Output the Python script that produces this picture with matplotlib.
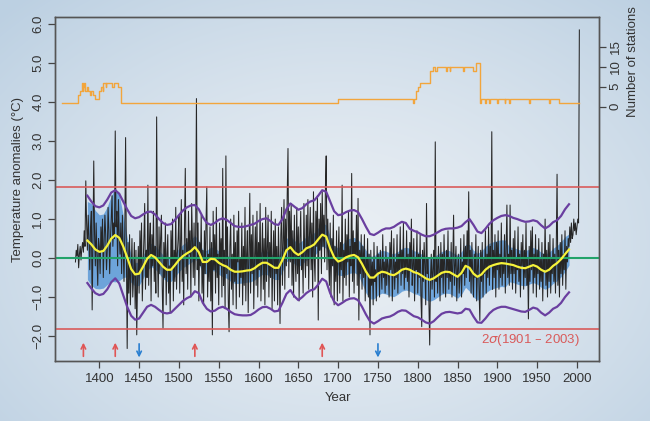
import numpy as np
import matplotlib
matplotlib.use('Agg')
import matplotlib.pyplot as plt

plt.rcParams['font.family'] = ['Liberation Sans', 'DejaVu Sans']
plt.rcParams['mathtext.fontset'] = 'dejavusans'

# ---------------- data ----------------
temp_start_year = 1370
temp_values = [
    -0.10, 0.20, 0.05, 0.35, -0.25, 0.10, 0.30, -0.05, 0.25, 0.40,     # 1370
    0.15, 0.70, 0.30, 1.98, 0.90, 0.20, 1.10, 0.50, -0.30, 0.80,       # 1380
    1.20, -1.33, 0.40, 2.49, 0.60, -0.20, 0.90, 0.10, -0.70, 0.50,     # 1390
    0.30, -0.40, 0.80, 0.20, 1.00, -0.50, 0.40, 1.10, 0.60, -0.30,     # 1400
    0.20, 1.30, 0.70, -0.40, 0.50, 1.00, 1.60, 0.30, 0.90, 0.50,       # 1410
    3.26, 0.80, 1.20, -0.20, 1.50, 0.60, 0.10, 0.90, -0.40, 1.10,      # 1420
    0.30, -0.60, 0.70, 3.09, 0.10, -2.32, 0.40, -0.90, 0.60, -1.20,    # 1430
    -0.30, 0.50, -1.00, -0.50, 0.40, -1.30, 0.20, -1.97, -0.60, 0.30,  # 1440
    -0.90, 0.70, -0.30, 0.90, -1.10, -0.20, 0.50, 1.40, -0.80, 0.20,   # 1450
    -0.50, 1.87, -0.70, 0.40, 0.90, -1.10, 0.60, -0.20, 1.20, -0.60,   # 1460
    0.30, -0.90, 3.62, 0.10, -1.00, 0.80, -0.40, 0.50, 1.10, -0.70,    # 1470
    -1.80, 0.40, -0.50, 0.90, -1.20, 0.10, 0.60, -0.90, -0.20, -1.40,  # 1480
    0.70, -0.30, 1.00, -1.10, 0.20, -0.60, 1.30, -0.80, 0.10, 0.50,    # 1490
    1.10, -0.90, 0.30, 1.50, -0.60, 0.20, -1.20, 0.80, 2.30, -0.40,    # 1500
    0.50, -0.80, 1.20, 0.10, 0.70, -1.00, 1.40, 0.40, -0.50, 0.90,     # 1510
    -0.70, 0.60, 4.09, -0.30, 0.90, -1.10, 0.40, -0.20, 1.10, -0.90,   # 1520
    0.20, -1.20, 0.70, -0.40, 0.90, 1.83, -1.00, 0.10, -0.60, 0.80,    # 1530
    -1.10, 0.40, -1.97, 1.20, -0.30, 0.60, -0.90, 1.30, -0.50, 0.10,   # 1540
    -1.20, 0.90, -0.20, 0.50, -1.00, 2.30, -0.70, 0.20, -1.30, 2.62,   # 1550
    -0.40, 0.80, -1.10, -1.89, 0.30, 1.00, -0.80, 0.10, -1.20, 1.10,   # 1560
    -0.60, 0.40, -1.30, 0.70, -0.10, 1.20, -1.00, 0.00, -0.50, 0.90,   # 1570
    -1.20, 0.30, -0.70, 1.30, -1.10, 0.10, 0.70, -1.40, 0.20, 1.66,    # 1580
    -0.90, 0.60, -0.40, 1.10, -1.30, 0.00, 0.80, -0.70, 1.20, -1.00,   # 1590
    0.40, -0.30, 1.40, -1.10, 0.10, 0.90, -0.80, 0.50, -1.20, 1.30,    # 1600
    -0.60, 0.20, 1.10, -1.00, 0.40, -0.50, 1.20, -1.30, 0.00, 0.70,    # 1610
    -1.10, 1.00, -0.40, 0.30, -1.20, 0.80, -0.10, -1.68, 0.60, 1.30,   # 1620
    -0.70, 0.40, 1.50, -0.80, 1.00, -0.20, 1.60, 2.81, -0.50, 1.20,    # 1630
    -0.10, 1.40, -0.70, 0.70, -1.00, 1.10, 0.00, -0.60, 1.30, -0.40,   # 1640
    0.80, -1.10, 0.50, 1.20, -0.30, 0.20, -0.90, 1.40, 0.10, -0.50,    # 1650
    1.10, -0.20, 1.50, -0.80, 0.60, 1.30, -0.30, 0.90, -1.00, 1.70,    # 1660
    0.00, -0.60, 1.20, 0.30, 1.60, -1.59, 1.00, 0.20, 1.40, -0.40,     # 1670
    1.70, 0.30, 1.10, -0.10, 1.80, 2.62, -0.30, 1.00, 0.00, -0.70,     # 1680
    0.90, -1.00, 0.50, -0.20, 1.10, -1.20, 0.30, -0.60, 0.70, -1.10,   # 1690
    0.10, 0.80, -0.90, 0.40, -0.30, 1.87, -1.10, 0.20, -0.50, 1.00,    # 1700
    -0.70, 0.60, -0.10, 1.20, -1.00, 0.30, -0.20, 2.17, -0.60, 0.70,   # 1710
    -0.90, 0.40, 0.00, 1.10, -0.70, 1.53, -1.59, 0.20, -0.40, 0.60,    # 1720
    -0.80, 0.30, -0.50, 0.60, -1.10, 0.00, -0.40, 0.50, -1.00, 0.10,   # 1730
    -1.97, 0.20, -0.70, -0.10, -1.20, 0.40, -0.60, -0.30, -1.10, 0.30, # 1740
    -0.40, 0.10, -1.00, 0.20, -0.30, -0.80, 0.60, -0.50, -0.10, -0.90, # 1750
    0.30, -0.70, 0.00, -0.20, -1.00, 0.40, -0.30, 0.70, -1.10, -0.40,  # 1760
    0.50, -0.80, -0.10, -0.50, 0.60, -0.90, 0.10, -0.30, 0.80, -0.70,  # 1770
    0.20, -0.40, 0.90, -0.80, 0.00, -0.50, 0.70, -0.60, 0.10, -1.00,   # 1780
    0.40, -0.30, 1.00, -0.70, -0.20, 0.50, -1.10, 0.00, -0.30, 0.70,   # 1790
    -0.90, 0.10, -0.50, 0.60, -1.00, -1.76, 0.20, -0.60, 0.40, -0.20,  # 1800
    -1.20, 1.40, -0.40, 0.00, -1.10, -2.23, -0.50, 0.10, -0.80, -0.30, # 1810
    0.20, -1.00, 2.98, -0.60, 0.00, -0.90, 0.30, -0.30, -1.10, 0.40,   # 1820
    -0.50, 0.10, -0.90, 0.60, -0.30, -1.00, 0.20, -0.50, 0.70, -0.80,  # 1830
    0.00, -0.60, 0.40, -1.00, -0.10, 1.10, -0.70, -0.20, 0.30, -1.10,  # 1840
    -0.30, 0.10, -0.90, -0.50, 0.50, -1.00, -0.10, -0.40, 0.60, -0.70, # 1850
    0.30, -0.50, 0.70, -0.20, 1.70, -0.60, 0.20, -0.90, 0.40, -0.40,   # 1860
    -1.00, 0.10, -0.50, 0.60, -1.10, -0.30, 0.30, -0.80, -1.60, 0.20,  # 1870
    -0.60, 0.40, -1.00, 0.00, -0.40, 0.70, -0.90, 0.10, -0.50, 0.80,   # 1880
    -0.70, 0.30, -0.20, 3.24, -0.80, 0.20, -0.50, 0.60, -1.00, 0.40,   # 1890
    -0.30, 0.70, -0.80, 0.10, -0.50, 0.90, -0.70, 0.00, -0.40, 0.60,   # 1900
    -0.90, 0.30, 1.36, -0.50, 0.10, -0.70, 1.36, -0.40, 0.20, -0.80,   # 1910
    0.50, -0.40, 0.70, -0.90, 0.00, -0.30, 0.80, -0.60, 0.10, -1.00,   # 1920
    0.40, -0.20, 0.60, -0.80, 0.20, -0.50, 0.90, -0.70, 0.00, -1.56,   # 1930
    0.30, -0.60, 0.70, -0.30, 0.80, -0.90, 0.10, -0.50, 0.60, -1.00,   # 1940
    0.20, -0.40, 0.50, -0.80, 0.00, -0.60, 0.40, -1.10, 0.10, -0.30,   # 1950
    1.00, -0.70, 0.20, -1.00, 0.40, -0.60, 0.60, -0.90, 0.00, -0.40,   # 1960
    0.50, -0.60, 0.10, -0.90, 0.30, 2.15, -0.70, 0.20, -1.00, 0.40,    # 1970
    -0.40, 0.60, -0.70, 0.10, -0.30, 0.70, -0.80, 0.30, -0.10, 0.50,   # 1980
    0.30, 0.80, 0.40, 0.90, 0.50, 0.60, 1.00, 0.70, 0.90, 0.60,        # 1990
    0.80, 1.00, 0.90, 5.85,                                            # 2000
]

smooth_start_year = 1385
smooth_step = 5
smooth_mean = [
    0.45, 0.35, 0.22, 0.16, 0.18, 0.32, 0.50, 0.59, 0.52, 0.30,
    0.02, -0.28, -0.42, -0.40, -0.22, -0.02, 0.08, 0.02, -0.10, -0.22,
    -0.30, -0.30, -0.18, -0.05, 0.05, 0.12, 0.18, 0.28, 0.15, -0.10,
    -0.10, -0.02, -0.03, -0.12, -0.18, -0.22, -0.30, -0.35, -0.35, -0.34,
    -0.32, -0.31, -0.26, -0.18, -0.12, -0.12, -0.18, -0.25, -0.25, -0.05,
    0.20, 0.28, 0.15, 0.08, 0.15, 0.25, 0.29, 0.35, 0.48, 0.60,
    0.55, 0.25, 0.02, -0.09, -0.05, 0.02, 0.06, 0.08, 0.02, -0.15,
    -0.35, -0.50, -0.50, -0.40, -0.35, -0.37, -0.42, -0.44, -0.38, -0.30,
    -0.27, -0.30, -0.36, -0.39, -0.45, -0.52, -0.56, -0.52, -0.45, -0.38,
    -0.35, -0.36, -0.42, -0.48, -0.38, -0.20, -0.25, -0.40, -0.48, -0.42,
    -0.30, -0.22, -0.18, -0.15, -0.13, -0.14, -0.16, -0.18, -0.22, -0.25,
    -0.26, -0.22, -0.18, -0.22, -0.30, -0.35, -0.30, -0.20, -0.13, -0.03,
    0.10, 0.22,
]
smooth_upper = [
    1.60, 1.45, 1.33, 1.30, 1.35, 1.50, 1.68, 1.74, 1.65, 1.45,
    1.25, 1.08, 1.02, 1.05, 1.12, 1.18, 1.19, 1.12, 1.00, 0.90,
    0.85, 0.87, 0.98, 1.10, 1.22, 1.30, 1.35, 1.36, 1.25, 1.05,
    0.90, 0.85, 0.90, 0.98, 1.02, 0.98, 0.90, 0.82, 0.80, 0.80,
    0.82, 0.85, 0.88, 0.95, 1.00, 1.02, 0.95, 0.87, 0.85, 1.00,
    1.25, 1.40, 1.32, 1.24, 1.28, 1.38, 1.45, 1.48, 1.60, 1.74,
    1.70, 1.45, 1.20, 1.10, 1.12, 1.18, 1.22, 1.23, 1.18, 1.00,
    0.80, 0.62, 0.59, 0.65, 0.72, 0.76, 0.76, 0.80, 0.87, 0.93,
    0.90, 0.75, 0.70, 0.66, 0.60, 0.56, 0.56, 0.60, 0.66, 0.72,
    0.75, 0.76, 0.76, 0.78, 0.82, 0.92, 1.00, 0.85, 0.68, 0.64,
    0.75, 0.88, 0.97, 1.03, 1.08, 1.10, 1.08, 1.03, 1.00, 0.96,
    0.93, 0.94, 0.97, 0.94, 0.84, 0.76, 0.82, 0.92, 0.97, 1.08,
    1.25, 1.38,
]
smooth_lower = [
    -0.64, -0.78, -0.90, -0.95, -0.92, -0.80, -0.62, -0.52, -0.65, -0.95,
    -1.25, -1.48, -1.58, -1.55, -1.40, -1.25, -1.20, -1.25, -1.33, -1.40,
    -1.42, -1.40, -1.30, -1.20, -1.10, -1.03, -0.98, -0.85, -0.90, -1.15,
    -1.30, -1.37, -1.35, -1.28, -1.25, -1.30, -1.38, -1.44, -1.46, -1.47,
    -1.47, -1.46, -1.40, -1.32, -1.26, -1.25, -1.30, -1.37, -1.35, -1.15,
    -0.92, -0.82, -0.98, -1.08, -1.00, -0.90, -0.83, -0.80, -0.68, -0.53,
    -0.60, -0.90, -1.12, -1.21, -1.15, -1.08, -1.04, -1.03, -1.08, -1.25,
    -1.45, -1.62, -1.68, -1.62, -1.55, -1.52, -1.50, -1.45, -1.38, -1.34,
    -1.35, -1.42, -1.49, -1.52, -1.58, -1.65, -1.68, -1.62, -1.52, -1.43,
    -1.39, -1.38, -1.40, -1.42, -1.40, -1.30, -1.32, -1.50, -1.65, -1.66,
    -1.55, -1.42, -1.33, -1.28, -1.25, -1.25, -1.28, -1.31, -1.34, -1.37,
    -1.38, -1.33, -1.27, -1.30, -1.40, -1.47, -1.40, -1.30, -1.25, -1.15,
    -1.00, -0.88,
]
band_halfwidth = [
    1.00, 1.05, 1.00, 0.95, 0.95, 1.00, 1.10, 1.20, 1.10, 0.80,
    0.50, 0.35, 0.30, 0.30, 0.30, 0.30, 0.30, 0.30, 0.30, 0.30,
    0.30, 0.30, 0.30, 0.30, 0.30, 0.30, 0.30, 0.30, 0.30, 0.30,
    0.30, 0.30, 0.30, 0.30, 0.30, 0.30, 0.30, 0.30, 0.30, 0.30,
    0.30, 0.30, 0.30, 0.30, 0.30, 0.30, 0.30, 0.30, 0.30, 0.30,
    0.30, 0.30, 0.30, 0.30, 0.30, 0.30, 0.30, 0.30, 0.30, 0.30,
    0.30, 0.30, 0.30, 0.35, 0.40, 0.45, 0.45, 0.45, 0.45, 0.50,
    0.55, 0.55, 0.55, 0.55, 0.55, 0.55, 0.55, 0.55, 0.55, 0.55,
    0.55, 0.55, 0.55, 0.55, 0.55, 0.55, 0.55, 0.55, 0.55, 0.55,
    0.55, 0.55, 0.55, 0.55, 0.55, 0.55, 0.60, 0.60, 0.60, 0.60,
    0.60, 0.60, 0.60, 0.60, 0.60, 0.60, 0.45, 0.45, 0.45, 0.45,
    0.45, 0.45, 0.45, 0.45, 0.45, 0.45, 0.45, 0.45, 0.45, 0.45,
    0.45, 0.40,
]

station_years = [1353, 1373, 1376, 1378, 1379, 1380, 1381, 1382, 1384, 1386,
                 1388, 1390, 1392, 1394, 1400, 1402, 1404, 1405, 1408, 1409,
                 1414, 1416, 1419, 1422, 1424, 1427, 1700, 1794, 1795, 1798,
                 1800, 1803, 1816, 1819, 1822, 1824, 1836, 1837, 1840, 1841,
                 1857, 1858, 1870, 1873, 1878, 1880, 1885, 1886, 1890, 1891,
                 1900, 1901, 1909, 1910, 1915, 1916, 1940, 1941, 1965, 1966,
                 1977, 2003]
station_counts = [1, 3, 4, 6, 4, 5, 6, 4, 5, 4,
                  3, 4, 3, 2, 4, 5, 4, 6, 5, 6,
                  6, 5, 6, 6, 5, 1, 2, 1, 2, 4,
                  5, 6, 9, 10, 9, 10, 9, 10, 9, 10,
                  9, 10, 9, 11, 1, 2, 1, 2, 1, 2,
                  1, 2, 1, 2, 1, 2, 1, 2, 1, 2,
                  1, 1]

sigma_level = 1.82
red_arrow_years = [1380, 1420, 1520, 1680]
blue_arrow_years = [1450, 1750]

x_ticks = [1400, 1450, 1500, 1550, 1600, 1650, 1700, 1750, 1800, 1850,
           1900, 1950, 2000]
y_ticks = [-2.0, -1.0, 0.0, 1.0, 2.0, 3.0, 4.0, 5.0, 6.0]
station_ticks = [0, 5, 10, 15]

# ---------------- figure ----------------
W, H = 650, 421
fig = plt.figure(figsize=(W / 100, H / 100), dpi=100)

bg = fig.add_axes([0, 0, 1, 1], zorder=-10)
yy, xx = np.mgrid[0:H, 0:W]
d = np.sqrt(((xx - 0.52 * W) / (0.72 * W)) ** 2 + ((yy - 0.58 * H) / (0.80 * H)) ** 2)
d = np.clip(d, 0, 1) ** 1.3
c_in = np.array([234, 239, 244]) / 255
c_out = np.array([188, 208, 226]) / 255
img = c_in[None, None, :] * (1 - d[..., None]) + c_out[None, None, :] * d[..., None]
bg.imshow(img, aspect='auto', extent=[0, 1, 0, 1], interpolation='bilinear')
bg.axis('off')

ax = fig.add_axes([55.3 / W, 1 - 361 / H, (598.7 - 55.3) / W, (361 - 16.7) / H])
ax.set_facecolor('none')
ax.set_xlim(1344.7, 2027.3)
ylo, yhi = -2.64, 6.19
ax.set_ylim(ylo, yhi)

years = np.arange(temp_start_year, temp_start_year + len(temp_values))
syears = np.arange(smooth_start_year, smooth_start_year + smooth_step * len(smooth_mean), smooth_step)
sm = np.array(smooth_mean)
bw = np.array(band_halfwidth)

ax.fill_between(syears, sm - bw, sm + bw, color='#4a8fd4', alpha=0.75, lw=0, zorder=1)
ax.plot(years, temp_values, color='#262626', lw=0.75, zorder=2)
ax.axhline(sigma_level, color='#d95b5b', lw=1.2, zorder=3)
ax.axhline(-sigma_level, color='#d95b5b', lw=1.2, zorder=3)
ax.axhline(0, color='#22a36a', lw=1.5, zorder=3)
ax.plot(syears, smooth_mean, color='#f6f23a', lw=1.6, zorder=4)
ax.plot(syears, smooth_upper, color='#6a3fa0', lw=1.6, zorder=4)
ax.plot(syears, smooth_lower, color='#6a3fa0', lw=1.6, zorder=4)

for yr in red_arrow_years:
    ax.annotate('', xy=(yr, -2.17), xytext=(yr, -2.52),
                arrowprops=dict(arrowstyle='->', color='#e05555', lw=1.2,
                                mutation_scale=8, shrinkA=0, shrinkB=0))
for yr in blue_arrow_years:
    ax.annotate('', xy=(yr, -2.55), xytext=(yr, -2.2),
                arrowprops=dict(arrowstyle='->', color='#2a7fd0', lw=1.2,
                                mutation_scale=8, shrinkA=0, shrinkB=0))

ax.text(2004, -2.1, r'2$\sigma$(1901 – 2003)', color='#d95b5b', fontsize=9.5,
        ha='right', va='center')

# stations on twin axis
ax2 = ax.twinx()
a, b = 3.88, 0.1026  # temperature-axis position of 0 stations, units per station
ax2.set_ylim((ylo - a) / b, (yhi - a) / b)
ax2.step(station_years, station_counts, where='post', color='#f2a53c', lw=1.0, zorder=5)
ax2.set_yticks(station_ticks)
ax2.set_yticklabels([str(t) for t in station_ticks])
ax2.patch.set_visible(False)

tick_color = '#444444'
lab_color = '#333333'
for a_ in (ax, ax2):
    for sp in a_.spines.values():
        sp.set_color('#555555')
        sp.set_linewidth(1.0)

ax.set_xticks(x_ticks)
ax.set_xticklabels([str(t) for t in x_ticks])
ax.set_yticks(y_ticks)
ax.set_yticklabels([('\u2212' if v < 0 else '') + f'{abs(v):.1f}' for v in y_ticks])
ax.tick_params(direction='out', length=5, width=0.9, color=tick_color,
               labelcolor=lab_color, labelsize=9.5)
ax.tick_params(axis='x', pad=4)
ax.tick_params(axis='y', pad=3)
ax2.tick_params(direction='out', length=5, width=0.9, color=tick_color,
                labelcolor=lab_color, labelsize=9.5, pad=3)
for lbl in ax.get_yticklabels():
    lbl.set_rotation(90)
    lbl.set_va('center')
for lbl in ax2.get_yticklabels():
    lbl.set_rotation(90)
    lbl.set_va('center')

fig.text(18 / W, 1 - 180 / H, 'Temperature anomalies (\u00b0C)', rotation=90,
         ha='center', va='center', fontsize=9.5, color=lab_color)
fig.text(633 / W, 1 - 62 / H, 'Number of stations', rotation=90,
         ha='center', va='center', fontsize=9.5, color=lab_color)
fig.text(338 / W, 1 - 398 / H, 'Year', ha='center', va='center',
         fontsize=9.5, color=lab_color)

fig.savefig('out.png', dpi=100)
